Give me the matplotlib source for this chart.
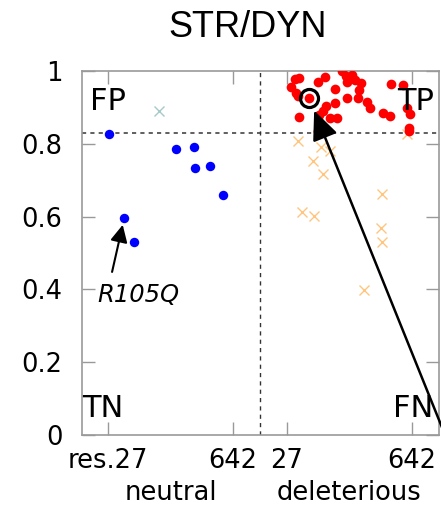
import matplotlib
matplotlib.use("Agg")
from matplotlib import pyplot as plt
from matplotlib.transforms import blended_transform_factory

# residue positions and scores
OFF = 881  # shift of the deleterious block along x

neu_res = [33, 362, 450, 455, 529, 591, 107, 156]
neu_score = [0.827, 0.786, 0.791, 0.734, 0.740, 0.660, 0.596, 0.531]
neu_miss_res = [279]
neu_miss_score = [0.891]

del_res = [68, 86, 49, 71, 79, 86, 135, 178, 216, 298, 261, 315, 348, 321, 362,
           391, 381, 321, 376, 423, 434, 265, 217, 202, 182, 240, 274, 184, 181,
           537, 599, 501, 534, 617, 632, 625, 625]
del_score = [0.978, 0.982, 0.957, 0.940, 0.931, 0.875, 0.927, 0.970, 0.983, 0.999,
             0.951, 0.986, 0.989, 0.971, 0.974, 0.966, 0.949, 0.927, 0.927, 0.914,
             0.898, 0.911, 0.905, 0.889, 0.878, 0.872, 0.871, 0.860, 0.835,
             0.963, 0.962, 0.884, 0.877, 0.898, 0.881, 0.843, 0.834]
del_miss_res = [83, 194, 239, 156, 203, 496, 99, 161, 488, 493, 616, 407]
del_miss_score = [0.809, 0.790, 0.781, 0.753, 0.717, 0.661, 0.613, 0.602,
                  0.568, 0.531, 0.827, 0.398]

thresh = 0.83
hl_res, hl_score = 135, 0.927      # circled variant
r105_res, r105_score = 107, 0.596  # R105Q

xtick_pos = [27, 642, 27 + OFF, 642 + OFF]
xtick_lab = ["res.27", "642", "27", "642"]
yticks = [0, 0.2, 0.4, 0.6, 0.8, 1]
ytick_lab = ["0", "0.2", "0.4", "0.6", "0.8", "1"]

fig = plt.figure(figsize=(4.41, 5.07), dpi=100)
ax = fig.add_axes([82/441, 72/507, 357/441, 364/507])

ax.axhline(thresh, color="#444444", lw=1.2, ls=(0, (2.5, 2.5)), zorder=1)
ax.axvline(775, color="#333333", lw=1.0, ls=(0, (3, 3)), zorder=1)

ax.plot(neu_res, neu_score, "o", color="#0000ff", ms=6.8, mew=0, zorder=3)
ax.plot(neu_miss_res, neu_miss_score, "x", color="cadetblue", alpha=0.55, ms=7, mew=1, zorder=2)
dx = [r + OFF for r in del_res]
ax.plot(dx, del_score, "o", color="#ff0000", ms=7, mew=0, zorder=3)
ax.plot([r + OFF for r in del_miss_res], del_miss_score, "x", color="darkorange",
        alpha=0.5, ms=7, mew=1, zorder=2)

ax.plot(hl_res + OFF, hl_score, "o", mfc="none", mec="k", ms=13, mew=2.3, zorder=4)

ax.annotate("", xy=(hl_res + OFF, hl_score), xytext=(1.031, -0.034),
            textcoords="axes fraction", annotation_clip=False,
            arrowprops=dict(arrowstyle="-|>,head_length=0.5,head_width=0.22", color="k",
                            lw=1.8, mutation_scale=36, shrinkA=0, shrinkB=10))
ax.annotate("", xy=(r105_res, r105_score), xytext=(47, 0.448),
            arrowprops=dict(arrowstyle="-|>", color="k", lw=1.5,
                            mutation_scale=26, shrinkA=0, shrinkB=5))
ax.text(-27, 0.365, "R105Q", fontsize=17.5, style="italic", family="DejaVu Sans",
        ha="left", va="baseline")

ax.text(0.022, 0.893, "FP", transform=ax.transAxes, fontsize=22, va="baseline")
ax.text(0.985, 0.893, "TP", transform=ax.transAxes, fontsize=22, va="baseline", ha="right")
ax.text(0.0, 0.05, "TN", transform=ax.transAxes, fontsize=22, va="baseline")
ax.text(0.985, 0.05, "FN", transform=ax.transAxes, fontsize=22, va="baseline", ha="right")

ax.set_xlim(-101, 1656)
ax.set_ylim(0, 1)
ax.set_xticks(xtick_pos)
ax.set_xticklabels(xtick_lab)
ax.set_yticks(yticks)
ax.set_yticklabels(ytick_lab)
ax.tick_params(axis="x", direction="in", length=9.5, width=1, color="#999999",
               labelsize=18.5, top=True, pad=9)
ax.tick_params(axis="y", direction="in", length=9.5, width=1, color="#999999",
               labelsize=18.5, right=True, pad=14)
for s in ax.spines.values():
    s.set_color("#999999")
    s.set_linewidth(1.2)

tr = blended_transform_factory(ax.transData, ax.transAxes)
ax.text((27 + 642) / 2, -0.179, "neutral", transform=tr, fontsize=18.5, ha="center", va="baseline")
ax.text((27 + 642) / 2 + OFF, -0.179, "deleterious", transform=tr, fontsize=18.5,
        ha="center", va="baseline")

fig.text(248/441, 1 - 37/507, "STR/DYN", fontsize=26, family="Liberation Sans",
         ha="center", va="baseline")

fig.savefig("out.png", dpi=100)
